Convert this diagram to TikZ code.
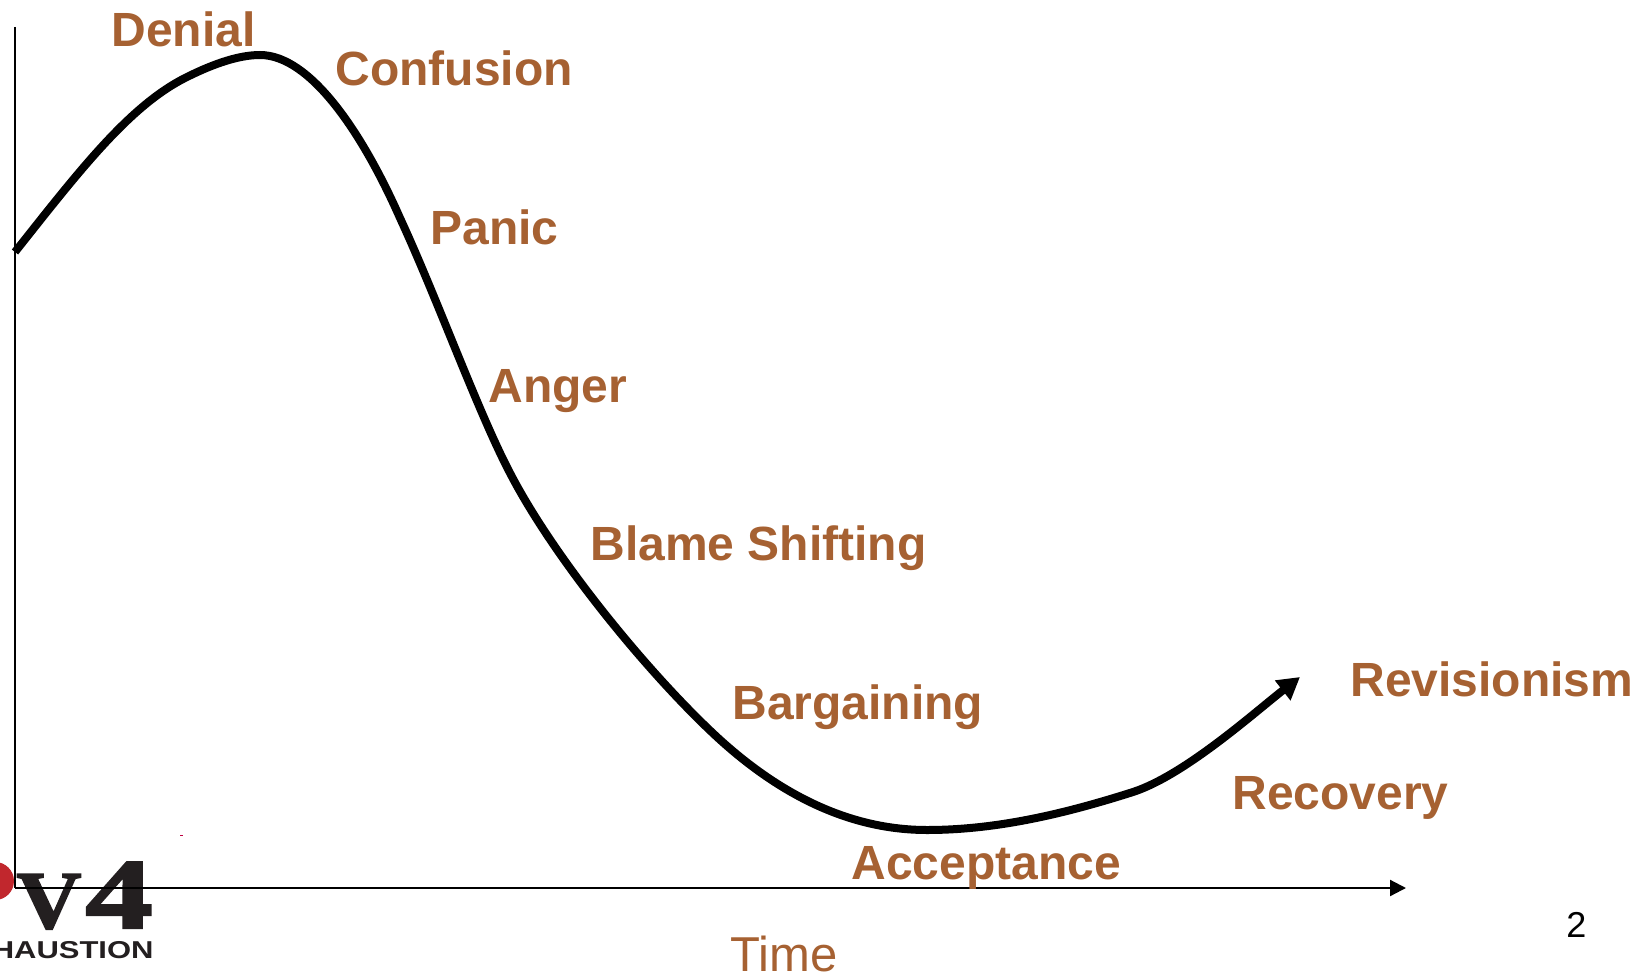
\documentclass[tikz,border=0pt]{standalone}
\usepackage{fontspec}
\setmainfont{Liberation Sans}
\newfontfamily\logoserif[BoldFont=*,BoldFeatures={FakeBold=2}]{Liberation Serif Bold}
\usetikzlibrary{arrows.meta}
\definecolor{stagebrown}{HTML}{A66132}
\definecolor{logored}{HTML}{C1272D}
\definecolor{logoblack}{HTML}{231F20}
\tikzset{
  stage/.style={anchor=base west,inner sep=0pt,text=stagebrown,font=\fontsize{24}{28}\bfseries\selectfont},
  axisline/.style={line width=1.1pt,black},
  curveline/.style={line width=4pt,black,-{Triangle[length=11pt,width=12pt]}}
}
\begin{document}
\begin{tikzpicture}[x=0.5pt,y=-0.5pt]
\useasboundingbox (0,0) rectangle (1648,973);
\clip (0,0) rectangle (1648,973);
% logo
\fill[logored] (-5,881) circle (19);
\node[anchor=base west,inner sep=0pt,text=logoblack,font=\logoserif\fontsize{41}{41}\bfseries\selectfont] (logov) at (16,928) {\scalebox{1.1}[1]{V}};
\node[anchor=base west,inner sep=0pt,text=logoblack,font=\logoserif\fontsize{50}{50}\bfseries\selectfont] (logofour) at (85,928) {\scalebox{1.35}[1]{4}};
\node[anchor=base east,inner sep=0pt,text=logoblack,font=\fontsize{12.2}{14}\bfseries\selectfont] (logotext) at (154,958) {\scalebox{1.27}[1]{HAUSTION}};
\fill[purple] (180,835) rectangle (183,836);
% axes
\coordinate (origin) at (15,888);
\coordinate (ytop) at (15,27);
\coordinate (xend) at (1406,888);
\draw[axisline] (ytop) -- (origin);
\draw[axisline,-{Triangle[length=8pt,width=8pt]}] (origin) -- (xend);
% curve
\coordinate (curvestart) at (15,252);
\coordinate (curveend) at (1300,677);
\draw[curveline] (curvestart)
  .. controls (80,170) and (130,105) .. (187,77)
  .. controls (215,63) and (240,55) .. (260,55)
  .. controls (310,55) and (362,132) .. (400,218)
  .. controls (437,298) and (478,412) .. (510,473)
  .. controls (555,560) and (650,675) .. (717,737)
  .. controls (780,795) and (850,830) .. (927,830)
  .. controls (1000,830) and (1070,812) .. (1133,792)
  .. controls (1185,775) and (1255,712) .. (curveend);
% labels
\node[stage] (denial) at (111,47) {Denial};
\node[stage] (confusion) at (335,86) {Confusion};
\node[stage] (panic) at (430,245) {Panic};
\node[stage] (anger) at (488,402) {Anger};
\node[stage] (blame) at (590,560) {Blame Shifting};
\node[stage] (bargaining) at (732,719) {Bargaining};
\node[stage] (revisionism) at (1350,696) {Revisionism};
\node[stage] (recovery) at (1232,809) {Recovery};
\node[stage] (acceptance) at (851,879) {Acceptance};
\node[anchor=base west,inner sep=0pt,text=stagebrown,font=\fontsize{24.5}{28}\selectfont] (time) at (730,971) {Time};
\node[anchor=base west,inner sep=0pt,text=black,font=\fontsize{18}{20}\selectfont] (pagenum) at (1566,937) {2};
\end{tikzpicture}
\end{document}
